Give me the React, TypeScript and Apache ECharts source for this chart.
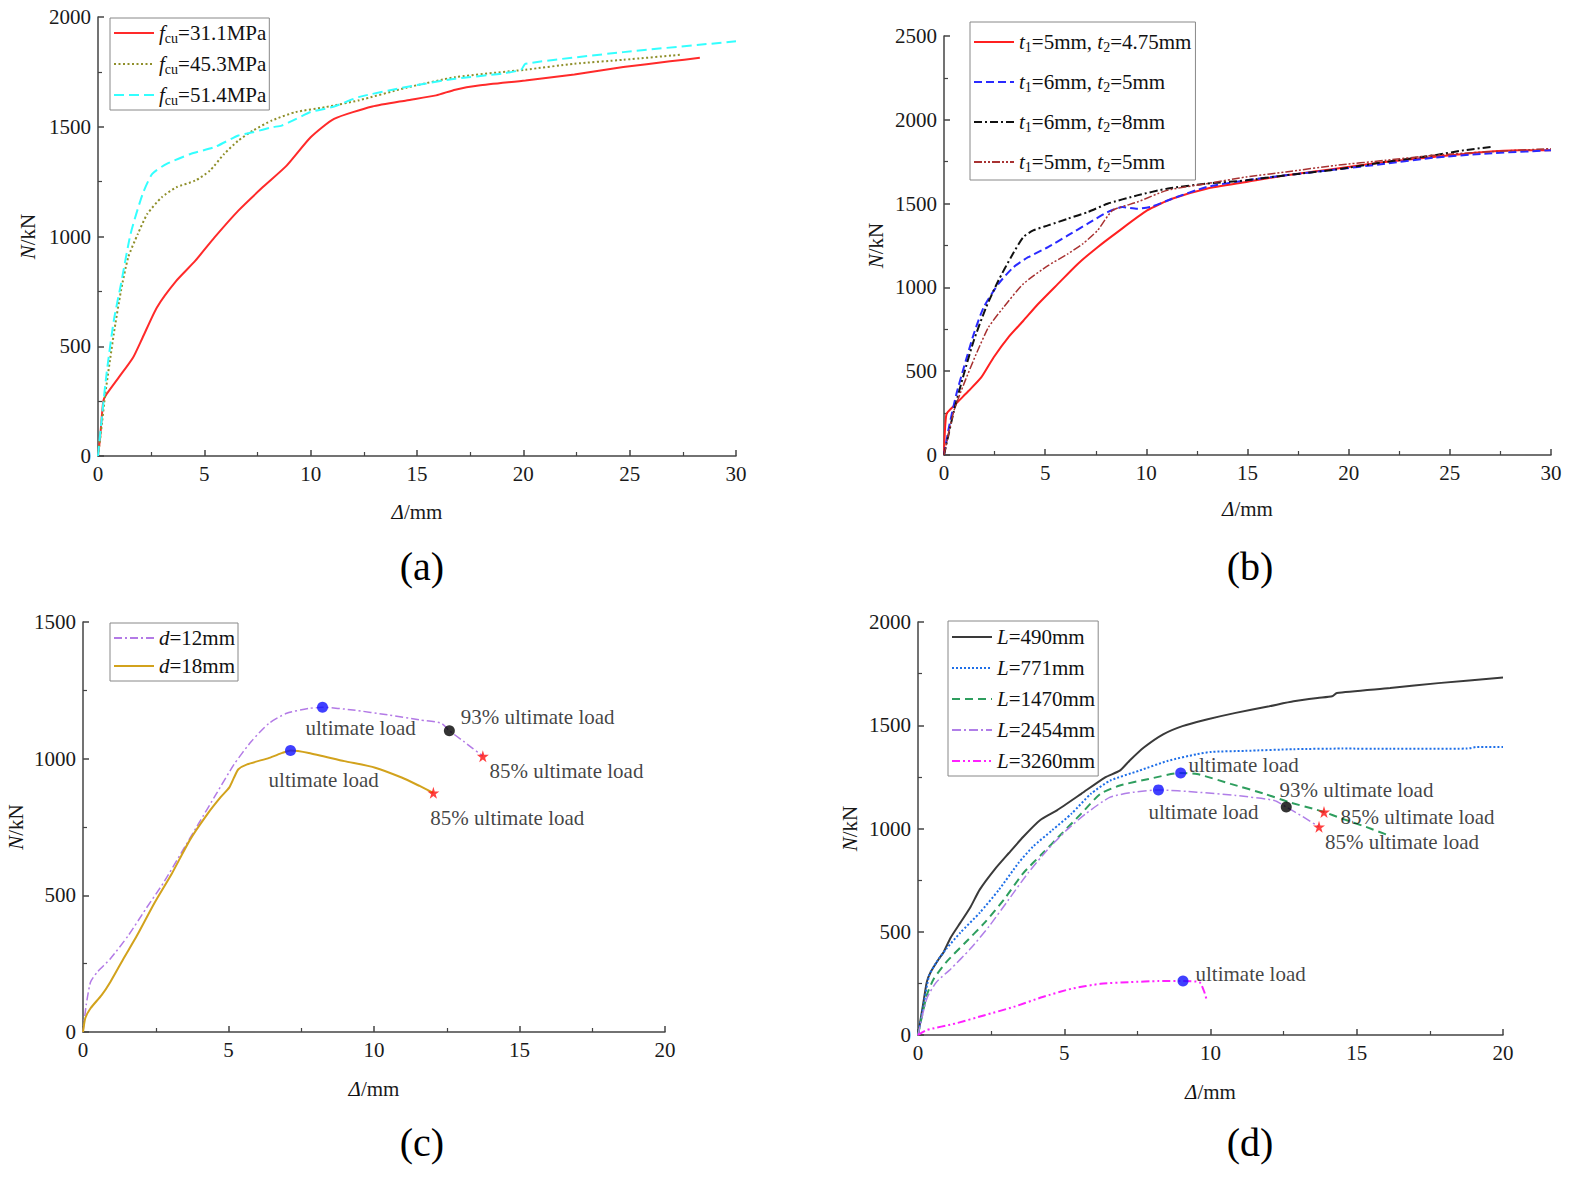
import React, { useEffect, useRef } from "react";
import * as echarts from "echarts";

const SERIF = '"Liberation Serif", "Times New Roman", serif';

// ---------- (a) ----------
const A_NAMES = ["fcu=31.1MPa", "fcu=45.3MPa", "fcu=51.4MPa"];
const A_FCU311 = [[0,0],[0.1,84],[0.25,251],[0.4,281],[0.97,357],[1.65,449],[2.1,540],[2.77,677],[3.68,798],[4.58,890],[5.48,996],[6.6,1118],[7.74,1224],[8.87,1323],[10,1452],[11.1,1536],[12.9,1592],[14.5,1620],[15.9,1643],[16.8,1669],[17.9,1688],[20.1,1711],[22.4,1738],[24.7,1772],[26.9,1798],[28.3,1814]];
const A_FCU453 = [[0,0],[0.18,144],[0.34,281],[0.74,555],[1.08,753],[1.42,905],[1.87,1011],[2.32,1103],[3.0,1179],[3.68,1224],[4.58,1255],[5.26,1300],[5.93,1376],[6.6,1437],[7.29,1483],[8.19,1529],[9.3,1567],[10.67,1589],[12.25,1620],[14.5,1678],[16.8,1726],[20.1,1760],[22.4,1787],[24.7,1805],[27.4,1828]];
const A_FCU514 = [[0,0],[0.18,175],[0.4,373],[0.74,616],[1.08,783],[1.53,1011],[2.1,1194],[2.55,1285],[3.23,1331],[4.35,1376],[5.48,1407],[6.6,1460],[7.29,1475],[8.19,1498],[8.64,1505],[9.3,1535],[10,1567],[11.1,1592],[12.25,1635],[14.5,1681],[16.8,1719],[19,1742],[19.9,1760],[20.1,1787],[24.7,1840],[30,1889]];

// ---------- (b) ----------
const B_NAMES = ["t1=5mm, t2=4.75mm", "t1=6mm, t2=5mm", "t1=6mm, t2=8mm", "t1=5mm, t2=5mm"];
const B_T5_475 = [[0,0],[0.12,243],[0.49,293],[1.22,383],[1.84,463],[2.45,582],[3.18,702],[3.92,801],[4.65,901],[5.63,1021],[6.61,1140],[7.59,1240],[8.57,1330],[10.04,1459],[11.27,1529],[12.98,1589],[14.94,1629],[16.9,1669],[19.35,1708],[21.8,1748],[24.2,1778],[26.7,1808],[28.4,1818],[30,1818]];
const B_T6_5 = [[0,0],[0.24,163],[0.61,363],[0.98,522],[1.47,722],[1.96,881],[2.69,1021],[3.43,1120],[4.16,1180],[5.14,1240],[6.12,1310],[7.1,1380],[8.08,1449],[8.82,1479],[9.55,1469],[10.29,1483],[11.27,1529],[12.98,1599],[14.94,1639],[16.9,1669],[19.35,1703],[21.8,1738],[24.2,1774],[26.7,1798],[30,1818]];
const B_T6_8 = [[0,0],[0.49,263],[0.98,482],[1.47,682],[2.08,881],[2.69,1041],[3.31,1180],[3.92,1300],[4.41,1340],[5.14,1370],[6.12,1410],[7.1,1449],[8.08,1499],[9.55,1549],[11.02,1589],[12.98,1619],[14.94,1639],[16.9,1669],[19.35,1703],[21.8,1748],[24.2,1788],[25.7,1818],[27.06,1838]];
const B_T5_5 = [[0,0],[0.49,263],[0.98,423],[1.59,602],[2.2,762],[2.94,881],[3.92,1021],[5.14,1130],[6.12,1200],[6.86,1260],[7.59,1340],[8.33,1459],[9.55,1509],[11.02,1579],[12.98,1619],[14.94,1659],[16.9,1689],[19.35,1728],[21.8,1758],[24.2,1788],[26.7,1808],[30,1828]];

// ---------- (c) ----------
const C_NAMES = ["d=12mm", "d=18mm"];
const C_D12 = [[0,0],[0.11,99],[0.26,183],[0.49,219],[0.94,268],[1.55,352],[2.15,449],[2.76,545],[3.37,654],[3.97,762],[4.58,871],[5.19,979],[5.79,1064],[6.4,1130],[7.0,1166],[7.76,1184],[8.23,1188],[9.28,1178],[10.49,1160],[11.55,1142],[12.31,1130],[12.59,1102],[13.07,1064],[13.74,1009]];
const C_D18 = [[0,0],[0.08,51],[0.26,87],[0.64,135],[0.94,183],[1.39,268],[1.85,352],[2.46,473],[3.06,581],[3.67,702],[4.28,798],[4.73,859],[5.03,895],[5.19,931],[5.34,961],[5.64,979],[6.4,1003],[6.85,1021],[7.13,1030],[7.76,1021],[8.98,991],[10.04,967],[10.95,931],[11.55,901],[12.04,875]];
const C_ULT = [[8.23,1188],[7.13,1030]];
const C_93 = [[12.59,1102]];
const C_85 = [[13.74,1009],[12.04,875]];
const C_TEXTS = ["ultimate load", "93% ultimate load", "85% ultimate load", "ultimate load", "85% ultimate load"];
const C_TEXT_POS = [[7.63,1112],[12.96,1153],[13.95,955],[6.36,922],[11.92,783]];

// ---------- (d) ----------
const D_NAMES = ["L=490mm", "L=771mm", "L=1470mm", "L=2454mm", "L=3260mm"];
const D_L490 = [[0,0],[0.17,144],[0.3,256],[0.43,304],[0.71,368],[0.87,400],[1.12,472],[1.45,544],[1.78,616],[2.11,704],[2.61,800],[3.1,880],[3.6,960],[4.17,1040],[4.75,1088],[5.58,1168],[6.4,1248],[6.9,1280],[7.23,1328],[7.72,1392],[8.38,1456],[9.04,1496],[9.87,1528],[10.86,1560],[12.01,1592],[12.84,1616],[13.66,1632],[14.16,1640],[14.32,1656],[16.14,1680],[17.79,1704],[20,1731]];
const D_L771 = [[0,0],[0.17,128],[0.38,288],[0.63,352],[0.96,416],[1.45,496],[2.11,592],[2.77,704],[3.43,832],[3.93,912],[4.59,992],[5.25,1072],[5.91,1168],[6.57,1232],[7.56,1280],[8.55,1328],[9.54,1360],[10.03,1371],[11.19,1376],[12.84,1384],[14.49,1387],[16.14,1386],[18.78,1387],[19.11,1395],[20,1395]];
const D_L1470 = [[0,0],[0.3,192],[0.54,272],[0.96,352],[1.62,448],[2.28,544],[2.94,656],[3.6,784],[4.26,880],[4.92,976],[5.58,1072],[6.24,1168],[6.9,1208],[7.89,1240],[8.98,1269],[9.54,1264],[10.69,1216],[11.85,1168],[12.67,1128],[13.5,1096],[13.88,1080],[14.49,1048],[15.31,1008],[16.06,968]];
const D_L2454 = [[0,0],[0.3,176],[0.63,256],[1.12,320],[1.78,416],[2.44,528],[3.1,656],[3.76,784],[4.42,896],[5.08,992],[5.74,1072],[6.57,1152],[7.39,1176],[8.22,1187],[9.54,1176],[10.86,1160],[12.18,1136],[12.59,1104],[13.17,1056],[13.71,1008]];
const D_L3260 = [[0,0],[0.3,24],[1.29,56],[2.28,96],[3.27,136],[4.26,184],[5.25,224],[6.24,248],[7.26,256],[8.22,261],[9.06,261],[9.62,256],[9.79,208],[9.87,168]];
const D_ULT = [[8.98,1269],[8.22,1187],[9.06,261]];
const D_93 = [[12.59,1104]];
const D_85 = [[13.88,1080],[13.71,1008]];
const D_TEXTS = ["ultimate load", "93% ultimate load", "85% ultimate load", "ultimate load", "85% ultimate load", "ultimate load"];
const D_TEXT_POS = [[9.23,1307],[12.34,1186],[14.43,1056],[7.86,1080],[13.9,935],[9.47,295]];

const PANEL_LABELS = ["(a)", "(b)", "(c)", "(d)"];

const STAR = "path://M50,0 L61,35 L98,35 L68,57 L79,91 L50,70 L21,91 L32,57 L2,35 L39,35 Z";

const RICH = {
  i: { fontFamily: SERIF, fontStyle: "italic", fontSize: 21, lineHeight: 24, color: "#111" },
  s: { fontFamily: SERIF, fontSize: 14, lineHeight: 12, verticalAlign: "bottom", color: "#111" },
};

function legendFmt(name: string): string {
  if (name.startsWith("fcu")) return "{i|f}{s|cu}" + name.slice(3);
  if (name.startsWith("t1")) return name.replace(/t(\d)/g, "{i|t}{s|$1}");
  return "{i|" + name[0] + "}" + name.slice(1);
}

const plain = (v: number) => String(v);

function xAx(gi: number, max: number, interval: number, gap: number) {
  return {
    type: "value", gridIndex: gi, min: 0, max, interval,
    axisLine: { show: true, onZero: false, lineStyle: { color: "#444", width: 1.5 } },
    axisTick: { show: true, inside: true, length: 6, lineStyle: { color: "#444", width: 1.5 } },
    minorTick: { show: true, splitNumber: 2, length: 4, lineStyle: { color: "#444", width: 1.2 } },
    splitLine: { show: false },
    axisLabel: { fontFamily: SERIF, fontSize: 21, color: "#1a1a1a", margin: 7, formatter: plain },
    name: "{i|Δ}/mm", nameLocation: "middle", nameGap: gap,
    nameTextStyle: { fontFamily: SERIF, fontSize: 21, color: "#1a1a1a", rich: RICH },
  };
}
function yAx(gi: number, max: number, interval: number, gap: number) {
  return {
    type: "value", gridIndex: gi, min: 0, max, interval,
    axisLine: { show: true, onZero: false, lineStyle: { color: "#444", width: 1.5 } },
    axisTick: { show: true, inside: true, length: 6, lineStyle: { color: "#444", width: 1.5 } },
    minorTick: { show: true, splitNumber: 2, length: 4, lineStyle: { color: "#444", width: 1.2 } },
    splitLine: { show: false },
    axisLabel: { fontFamily: SERIF, fontSize: 21, color: "#1a1a1a", margin: 7, formatter: plain },
    name: "{i|N}/kN", nameLocation: "middle", nameGap: gap,
    nameTextStyle: { fontFamily: SERIF, fontSize: 21, color: "#1a1a1a", rich: RICH },
  };
}
function line(name: string, gi: number, data: number[][], color: string, type: any, width = 2) {
  return {
    type: "line", name, xAxisIndex: gi, yAxisIndex: gi, data, symbol: "none",
    smooth: 0.2,
    lineStyle: { color, type, width }, itemStyle: { color }, z: 2,
  };
}
function marks(gi: number, data: number[][], color: string, symbol: string, size: number) {
  return {
    type: "scatter", xAxisIndex: gi, yAxisIndex: gi, data, symbol, symbolSize: size,
    itemStyle: { color }, z: 5,
  };
}
function texts(gi: number, pos: number[][], labels: string[]) {
  return {
    type: "scatter", xAxisIndex: gi, yAxisIndex: gi, symbol: "circle", symbolSize: 1,
    itemStyle: { color: "rgba(0,0,0,0)" }, z: 6, silent: true,
    data: pos.map((p, k) => ({ value: p, label: { formatter: labels[k] } })),
    label: { show: true, position: "right", distance: 0, fontFamily: SERIF, fontSize: 21, color: "#111" },
  };
}
function legend(names: string[], left: number, top: number, gap: number, padding: number[]) {
  return {
    data: names, orient: "vertical", left, top, itemWidth: 40, itemHeight: 14, itemGap: gap,
    padding, borderColor: "#888", borderWidth: 1, selectedMode: false,
    itemStyle: { color: "rgba(0,0,0,0)", borderWidth: 0, opacity: 0 },
    formatter: legendFmt,
    textStyle: { fontFamily: SERIF, fontSize: 21, lineHeight: 24, color: "#111", rich: RICH },
  };
}

export default function App() {
  const ref = useRef<HTMLDivElement>(null);
  useEffect(() => {
    const chart = echarts.init(ref.current!, null, { renderer: "svg" });
    const labelPos = [[422, 566], [1250, 566], [422, 1142], [1250, 1142]];
    chart.setOption({
      animation: false,
      backgroundColor: "#fff",
      grid: [
        { left: 98, top: 17, width: 638, height: 439 },
        { left: 944, top: 36, width: 607, height: 419 },
        { left: 83, top: 622, width: 582, height: 410 },
        { left: 918, top: 622, width: 585, height: 413 },
      ],
      xAxis: [xAx(0, 30, 5, 44), xAx(1, 30, 5, 42), xAx(2, 20, 5, 45), xAx(3, 20, 5, 45)],
      yAxis: [yAx(0, 2000, 500, 58), yAx(1, 2500, 500, 56), yAx(2, 1500, 500, 55), yAx(3, 2000, 500, 56)],
      legend: [
        legend(A_NAMES, 110, 18, 7, [3, 3, 3, 3]),
        legend(B_NAMES, 970, 22, 16, [8, 4, 6, 3]),
        legend(C_NAMES, 110, 623, 4, [3, 3, 3, 3]),
        legend(D_NAMES, 948, 621, 7, [4, 3, 3, 3]),
      ],
      graphic: PANEL_LABELS.map((t, k) => ({
        type: "text", x: labelPos[k][0], y: labelPos[k][1],
        style: { text: t, fontFamily: SERIF, fontSize: 40, fill: "#000", textAlign: "center", textVerticalAlign: "middle" },
      })),
      series: [
        line(A_NAMES[0], 0, A_FCU311, "#ff2a2a", "solid"),
        line(A_NAMES[1], 0, A_FCU453, "#8f8f2a", [2, 2.5]),
        line(A_NAMES[2], 0, A_FCU514, "#33ffff", [10, 5]),

        line(B_NAMES[0], 1, B_T5_475, "#ff2020", "solid"),
        line(B_NAMES[1], 1, B_T6_5, "#2a2aff", [8, 4]),
        line(B_NAMES[2], 1, B_T6_8, "#111111", [8, 3, 2, 3]),
        line(B_NAMES[3], 1, B_T5_5, "#a83232", [8, 2, 2, 2, 2, 2], 1.5),

        line(C_NAMES[0], 2, C_D12, "#b37ae6", [8, 3, 2, 3], 1.5),
        line(C_NAMES[1], 2, C_D18, "#d2a21c", "solid"),
        marks(2, C_ULT, "#1010ff", "circle", 11),
        marks(2, C_93, "#000000", "circle", 11),
        marks(2, C_85, "#ff1010", STAR, 12),
        texts(2, C_TEXT_POS, C_TEXTS),

        line(D_NAMES[0], 3, D_L490, "#3a3a3a", "solid"),
        line(D_NAMES[1], 3, D_L771, "#1e6fe8", [2, 2]),
        line(D_NAMES[2], 3, D_L1470, "#2e9e5e", [8, 5]),
        line(D_NAMES[3], 3, D_L2454, "#b07ee8", [9, 3, 2, 3], 1.5),
        line(D_NAMES[4], 3, D_L3260, "#ff20ff", [8, 3, 2, 3, 2, 3]),
        marks(3, D_ULT, "#1010ff", "circle", 11),
        marks(3, D_93, "#000000", "circle", 11),
        marks(3, D_85, "#ff1010", STAR, 12),
        texts(3, D_TEXT_POS, D_TEXTS),
      ],
    });
    return () => chart.dispose();
  }, []);
  return (
    <div
      ref={ref}
      style={{ position: "fixed", left: 0, top: 0, width: 1586, height: 1187, background: "#fff" }}
    />
  );
}
